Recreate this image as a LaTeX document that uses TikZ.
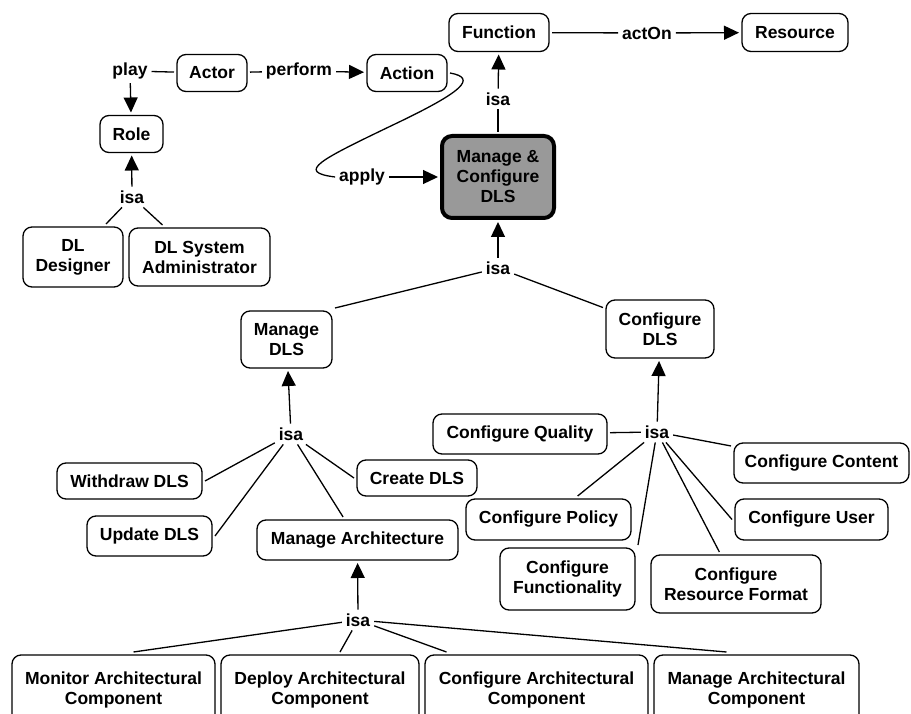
\documentclass[tikz,border=0pt]{standalone}
\usepackage{fontspec}
\setmainfont{Liberation Sans}
\usetikzlibrary{arrows.meta}
\definecolor{boxgray}{RGB}{153,153,153}
\begin{document}
\begin{tikzpicture}[x=1pt,y=-1pt,
  font=\fontsize{17.5}{20}\selectfont\bfseries,
  box/.style={draw, line width=1.3pt, rounded corners=9pt, fill=white, align=center, inner sep=0pt, outer sep=3pt},
  mainbox/.style={draw, line width=4pt, rounded corners=10pt, fill=boxgray, align=center, inner sep=0pt, outer sep=4pt},
  lbl/.style={inner sep=4pt, outer sep=0pt},
  ln/.style={line width=1.3pt},
  arr/.style={line width=1.3pt, -{Triangle[length=15pt,width=14pt]}},
]
\useasboundingbox (0,0) rectangle (911,714);

% boxes
\node[box, minimum width=100pt, minimum height=38pt] (function) at (499,32.5) {Function};
\node[box, minimum width=106pt, minimum height=38pt] (resource) at (795,32.5) {Resource};
\node[box, minimum width=70pt, minimum height=37pt] (actor) at (212,73) {Actor};
\node[box, minimum width=80pt, minimum height=37pt] (action) at (407,73) {Action};
\node[box, minimum width=63pt, minimum height=37pt] (role) at (131.5,134) {Role};
\node[box, minimum width=100pt, minimum height=60pt] (dldesigner) at (73,257) {DL\\Designer};
\node[box, minimum width=141pt, minimum height=58pt] (dlsysadmin) at (199.5,257) {DL System\\Administrator};
\node[mainbox, minimum width=112pt, minimum height=82pt] (mc) at (498,177) {Manage \&\\Configure\\DLS};
\node[box, minimum width=91pt, minimum height=57pt] (managedls) at (286.5,339.5) {Manage\\DLS};
\node[box, minimum width=108pt, minimum height=58pt] (configuredls) at (660,329) {Configure\\DLS};
\node[box, minimum width=145pt, minimum height=36pt] (withdraw) at (129.5,481) {Withdraw DLS};
\node[box, minimum width=125pt, minimum height=40pt] (update) at (149.5,536) {Update DLS};
\node[box, minimum width=201pt, minimum height=40pt] (managearch) at (357.5,540) {Manage Architecture};
\node[box, minimum width=120pt, minimum height=36pt] (create) at (417,478) {Create DLS};
\node[box, minimum width=174pt, minimum height=40pt] (cquality) at (520,434) {Configure Quality};
\node[box, minimum width=175pt, minimum height=40pt] (ccontent) at (821.5,463) {Configure Content};
\node[box, minimum width=165pt, minimum height=41pt] (cpolicy) at (548.5,519.5) {Configure Policy};
\node[box, minimum width=153pt, minimum height=41pt] (cuser) at (811.5,519.5) {Configure User};
\node[box, minimum width=135pt, minimum height=62pt] (cfunc) at (567.5,579) {Configure\\Functionality};
\node[box, minimum width=170pt, minimum height=58pt] (cresfmt) at (736,584) {Configure\\Resource Format};
\node[box, minimum width=203pt, minimum height=70pt] (monitor) at (113.5,690) {Monitor Architectural\\Component};
\node[box, minimum width=198pt, minimum height=70pt] (deploy) at (320,690) {Deploy Architectural\\Component};
\node[box, minimum width=223pt, minimum height=70pt] (configarch) at (536.5,690) {Configure Architectural\\Component};
\node[box, minimum width=205pt, minimum height=70pt] (managearchcomp) at (756.5,690) {Manage Architectural\\Component};

% labels
\node[lbl] (play) at (130,71) {play};
\node[lbl] (perform) at (299,71) {perform};
\node[lbl] (acton) at (647,33) {actOn};
\node[lbl] (isaF) at (498,99) {isa};
\node[lbl] (apply) at (362,177) {apply};
\node[lbl] (isaR) at (132,197) {isa};
\node[lbl] (isaMC) at (498,268) {isa};
\node[lbl] (isaM) at (291,434) {isa};
\node[lbl] (isaC) at (657,432) {isa};
\node[lbl] (isaA) at (358,620) {isa};

% connectors
\draw[ln] (actor) -- (play);
\draw[arr] (play) -- (role);
\draw[ln] (actor) -- (perform);
\draw[arr] (perform) -- (action);
\draw[ln] (function) -- (acton);
\draw[arr] (acton) -- (resource);
\draw[ln] (mc) -- (isaF);
\draw[arr] (isaF) -- (function);
\draw[ln] (action.east) .. controls (478,78) and (462,92) .. (395,124)
                        .. controls (320,160) and (295,172) .. (apply.west);
\draw[arr] (apply) -- (mc);

\draw[ln] ([xshift=33pt]dldesigner.north) -- (isaR);
\draw[ln] ([xshift=-37pt]dlsysadmin.north) -- (isaR);
\draw[arr] (isaR) -- (role);

\draw[ln] (managedls.north east) -- (isaMC);
\draw[ln] (configuredls) -- (isaMC);
\draw[arr] (isaMC) -- (mc);

\draw[ln] (withdraw.east) -- (isaM);
\draw[ln] (update.east) -- (isaM);
\draw[ln] (managearch) -- (isaM);
\draw[ln] (create.west) -- (isaM);
\draw[arr] (isaM) -- (managedls);

\draw[ln] (cquality) -- (isaC);
\draw[ln] (ccontent) -- (isaC);
\draw[ln] (cpolicy) -- (isaC);
\draw[ln] (cfunc.north east) -- (isaC);
\draw[ln] (cresfmt) -- (isaC);
\draw[ln] (cuser.west) -- (isaC);
\draw[arr] (isaC) -- (configuredls);

\draw[ln] ([xshift=20pt]monitor.north) -- (isaA);
\draw[ln] ([xshift=20pt]deploy.north) -- (isaA);
\draw[ln] ([xshift=-90pt]configarch.north) -- (isaA);
\draw[ln] ([xshift=-30pt]managearchcomp.north) -- (isaA);
\draw[arr] (isaA) -- (managearch);
\end{tikzpicture}
\end{document}
